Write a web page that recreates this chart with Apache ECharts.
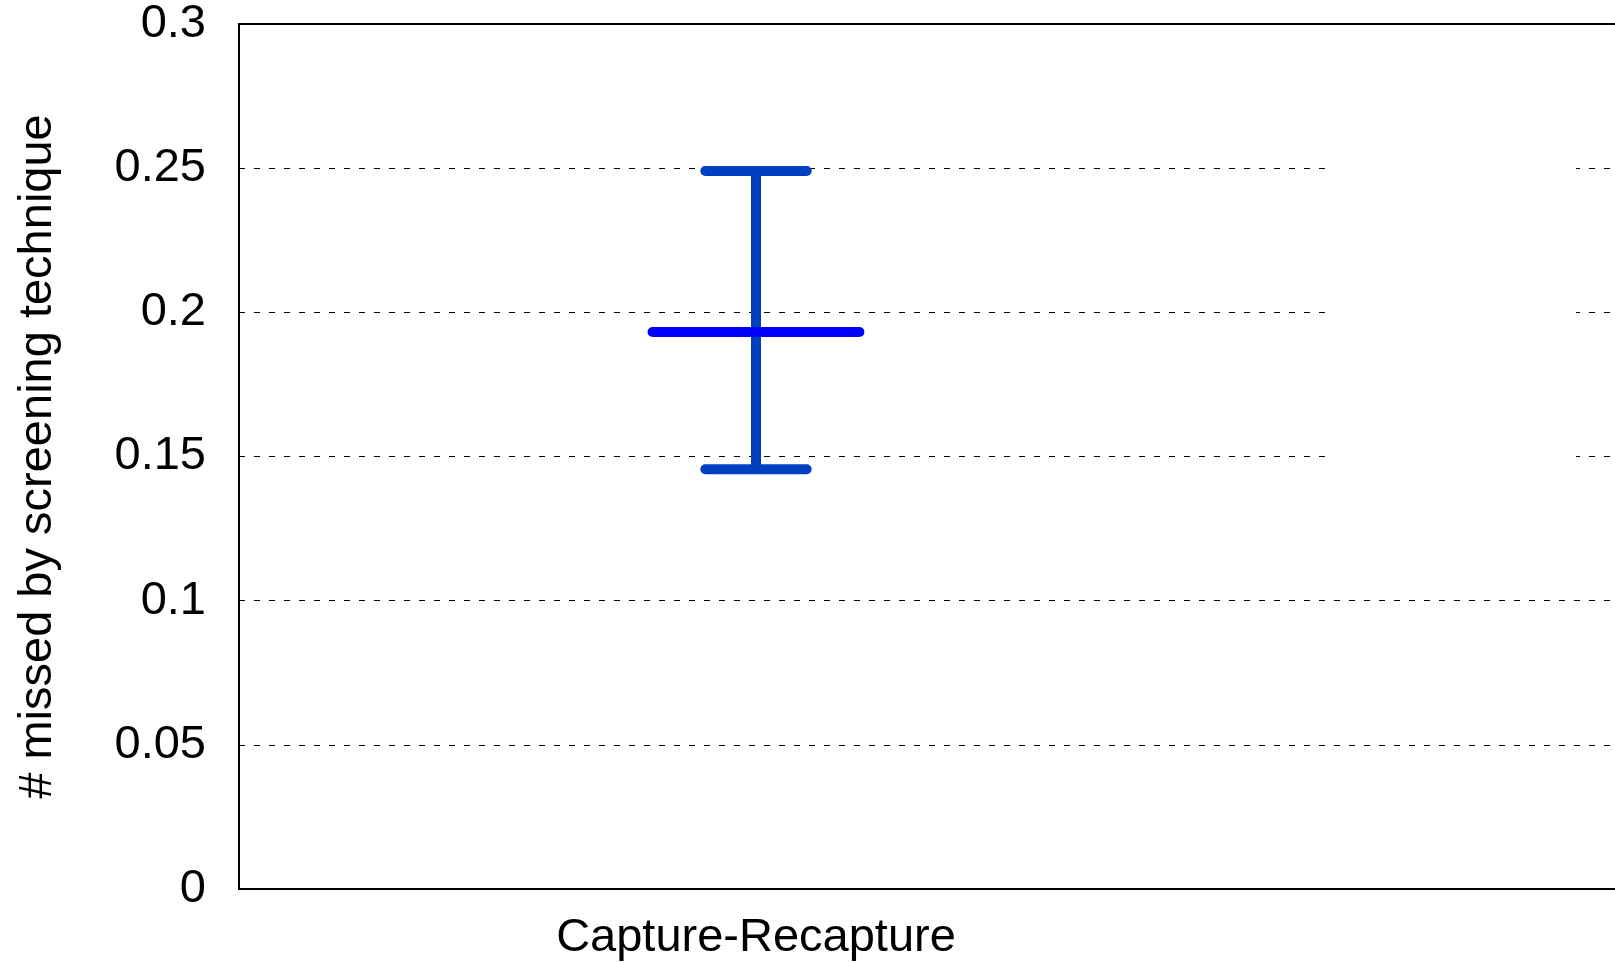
<!DOCTYPE html>
<html>
<head>
<meta charset="utf-8">
<script src="https://cdn.jsdelivr.net/npm/echarts@6/dist/echarts.min.js"></script>
<style>
html,body{margin:0;padding:0;background:#fff;overflow:hidden;width:1615px;height:963px;}
#chart{width:2400px;height:963px;}
</style>
</head>
<body>
<div id="chart"></div>
<script>
const categories = ['Capture-Recapture', ''];
const lowValues = [0.1456];
const meanValues = [0.1932];
const highValues = [0.249];
const yTicks = { min: 0, max: 0.3, interval: 0.05 };

const seriesData = lowValues.map((v, i) => [i, v, meanValues[i], highValues[i]]);

const chart = echarts.init(document.getElementById('chart'));
const FONT = 'Liberation Sans, Arial, sans-serif';
chart.setOption({
  animation: false,
  backgroundColor: '#fff',
  grid: { left: 239, top: 24, width: 2068, bottom: 74, show: true, borderColor: '#000', borderWidth: 2, containLabel: false },
  xAxis: {
    type: 'category',
    data: categories,
    boundaryGap: true,
    axisLine: { show: true, lineStyle: { color: '#000', width: 2 } },
    axisTick: { show: false },
    axisLabel: { color: '#000', fontFamily: FONT, fontSize: 47, margin: 26 },
    splitLine: { show: false }
  },
  yAxis: {
    type: 'value',
    min: yTicks.min, max: yTicks.max, interval: yTicks.interval,
    name: '# missed by screening technique',
    nameLocation: 'middle',
    nameRotate: 90,
    nameGap: 177,
    nameTextStyle: { color: '#000', fontFamily: FONT, fontSize: 47 },
    axisLine: { show: true, lineStyle: { color: '#000', width: 2 } },
    axisTick: { show: false },
    axisLabel: { color: '#000', fontFamily: FONT, fontSize: 47, margin: 33 },
    splitLine: { show: true, lineStyle: { color: '#000', width: 1, type: [6, 9] } }
  },
  graphic: [{
    type: 'rect', z: 5,
    shape: { x: 1333, y: 110, width: 243, height: 400 },
    style: { fill: '#fff' }
  }],
  series: [{
    type: 'custom',
    z: 10,
    data: seriesData,
    encode: { x: 0, y: [1, 2, 3] },
    renderItem: function (params, api) {
      const lo = api.coord([api.value(0), api.value(1)]);
      const mid = api.coord([api.value(0), api.value(2)]);
      const hi = api.coord([api.value(0), api.value(3)]);
      const band = api.size([1, 0])[0];
      const capHalf = band * 0.049;
      const meanHalf = band * 0.1;
      const eb = { stroke: '#0040C0', lineWidth: 10, lineCap: 'round' };
      const mb = { stroke: '#0000FF', lineWidth: 10, lineCap: 'round' };
      return {
        type: 'group',
        children: [
          { type: 'line', shape: { x1: hi[0], y1: hi[1], x2: lo[0], y2: lo[1] }, style: Object.assign({}, eb, { lineCap: 'butt' }) },
          { type: 'line', shape: { x1: hi[0] - capHalf, y1: hi[1], x2: hi[0] + capHalf, y2: hi[1] }, style: eb },
          { type: 'line', shape: { x1: lo[0] - capHalf, y1: lo[1], x2: lo[0] + capHalf, y2: lo[1] }, style: eb },
          { type: 'line', shape: { x1: mid[0] - meanHalf, y1: mid[1], x2: mid[0] + meanHalf, y2: mid[1] }, style: mb }
        ]
      };
    }
  }]
});
</script>
</body>
</html>
